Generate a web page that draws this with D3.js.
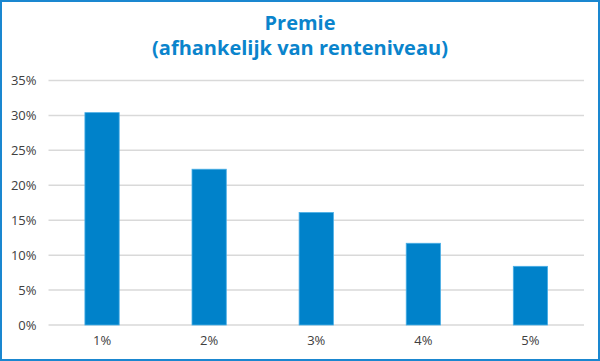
<!DOCTYPE html>
<html><head><meta charset="utf-8">
<script src="https://cdn.jsdelivr.net/npm/d3@7"></script>
<style>
html,body{margin:0;padding:0;background:#fff;}
svg{display:block;}
</style></head>
<body>
<script>
const categories = ["1%","2%","3%","4%","5%"];
const values = [30.4, 22.3, 16.1, 11.7, 8.4];
const yTicks = [0,5,10,15,20,25,30,35];
const titleLines = ["Premie","(afhankelijk van renteniveau)"];

const W = 600, H = 361;
const svg = d3.select("body").append("svg").attr("width",W).attr("height",H);
svg.append("rect").attr("x",1).attr("y",1).attr("width",W-2).attr("height",H-2)
  .attr("fill","#fff").attr("stroke","#1a87d0").attr("stroke-width",2);

const m = {left:48.5, right:584, top:80.5, bottom:325};
const x = d3.scaleBand().domain(categories).range([m.left,m.right]).padding(0);
const y = d3.scaleLinear().domain([0,35]).range([m.bottom,m.top]);

const font = "'Open Sans', 'Noto Sans', sans-serif";

svg.append("g").selectAll("line").data(yTicks).join("line")
  .attr("x1",m.left).attr("x2",m.right)
  .attr("y1",d=>y(d)).attr("y2",d=>y(d))
  .attr("stroke","#d9d9d9").attr("stroke-width",1.5);

const yAxis = d3.axisLeft(y).tickValues(yTicks).tickFormat(d=>d+"%").tickSize(0).tickPadding(12);
svg.append("g").attr("transform",`translate(${m.left},0)`).call(yAxis)
  .call(g=>g.select(".domain").remove())
  .selectAll("text").attr("font-family",font).attr("font-size",13).attr("fill","#404040");

const xAxis = d3.axisBottom(x).tickSize(0).tickPadding(11);
svg.append("g").attr("transform",`translate(0,${m.bottom})`).call(xAxis)
  .call(g=>g.select(".domain").remove())
  .selectAll("text").attr("font-family",font).attr("font-size",13).attr("fill","#404040");

const bw = x.bandwidth()*0.32;
svg.append("g").selectAll("rect").data(values).join("rect")
  .attr("x",(d,i)=>x(categories[i])+x.bandwidth()/2-bw/2)
  .attr("width",bw)
  .attr("y",d=>y(d))
  .attr("height",d=>y(0)-y(d))
  .attr("fill","#0082ca").attr("stroke","#49aee6").attr("stroke-width",0.8);

const title = svg.append("g").attr("font-family",font)
  .attr("font-weight","bold").attr("font-size",20).attr("fill","#0a84cc");
title.selectAll("text").data(titleLines).join("text")
  .attr("text-anchor","middle")
  .attr("x",300).attr("y",(d,i)=>30+i*25).text(d=>d);
</script>
</body></html>
